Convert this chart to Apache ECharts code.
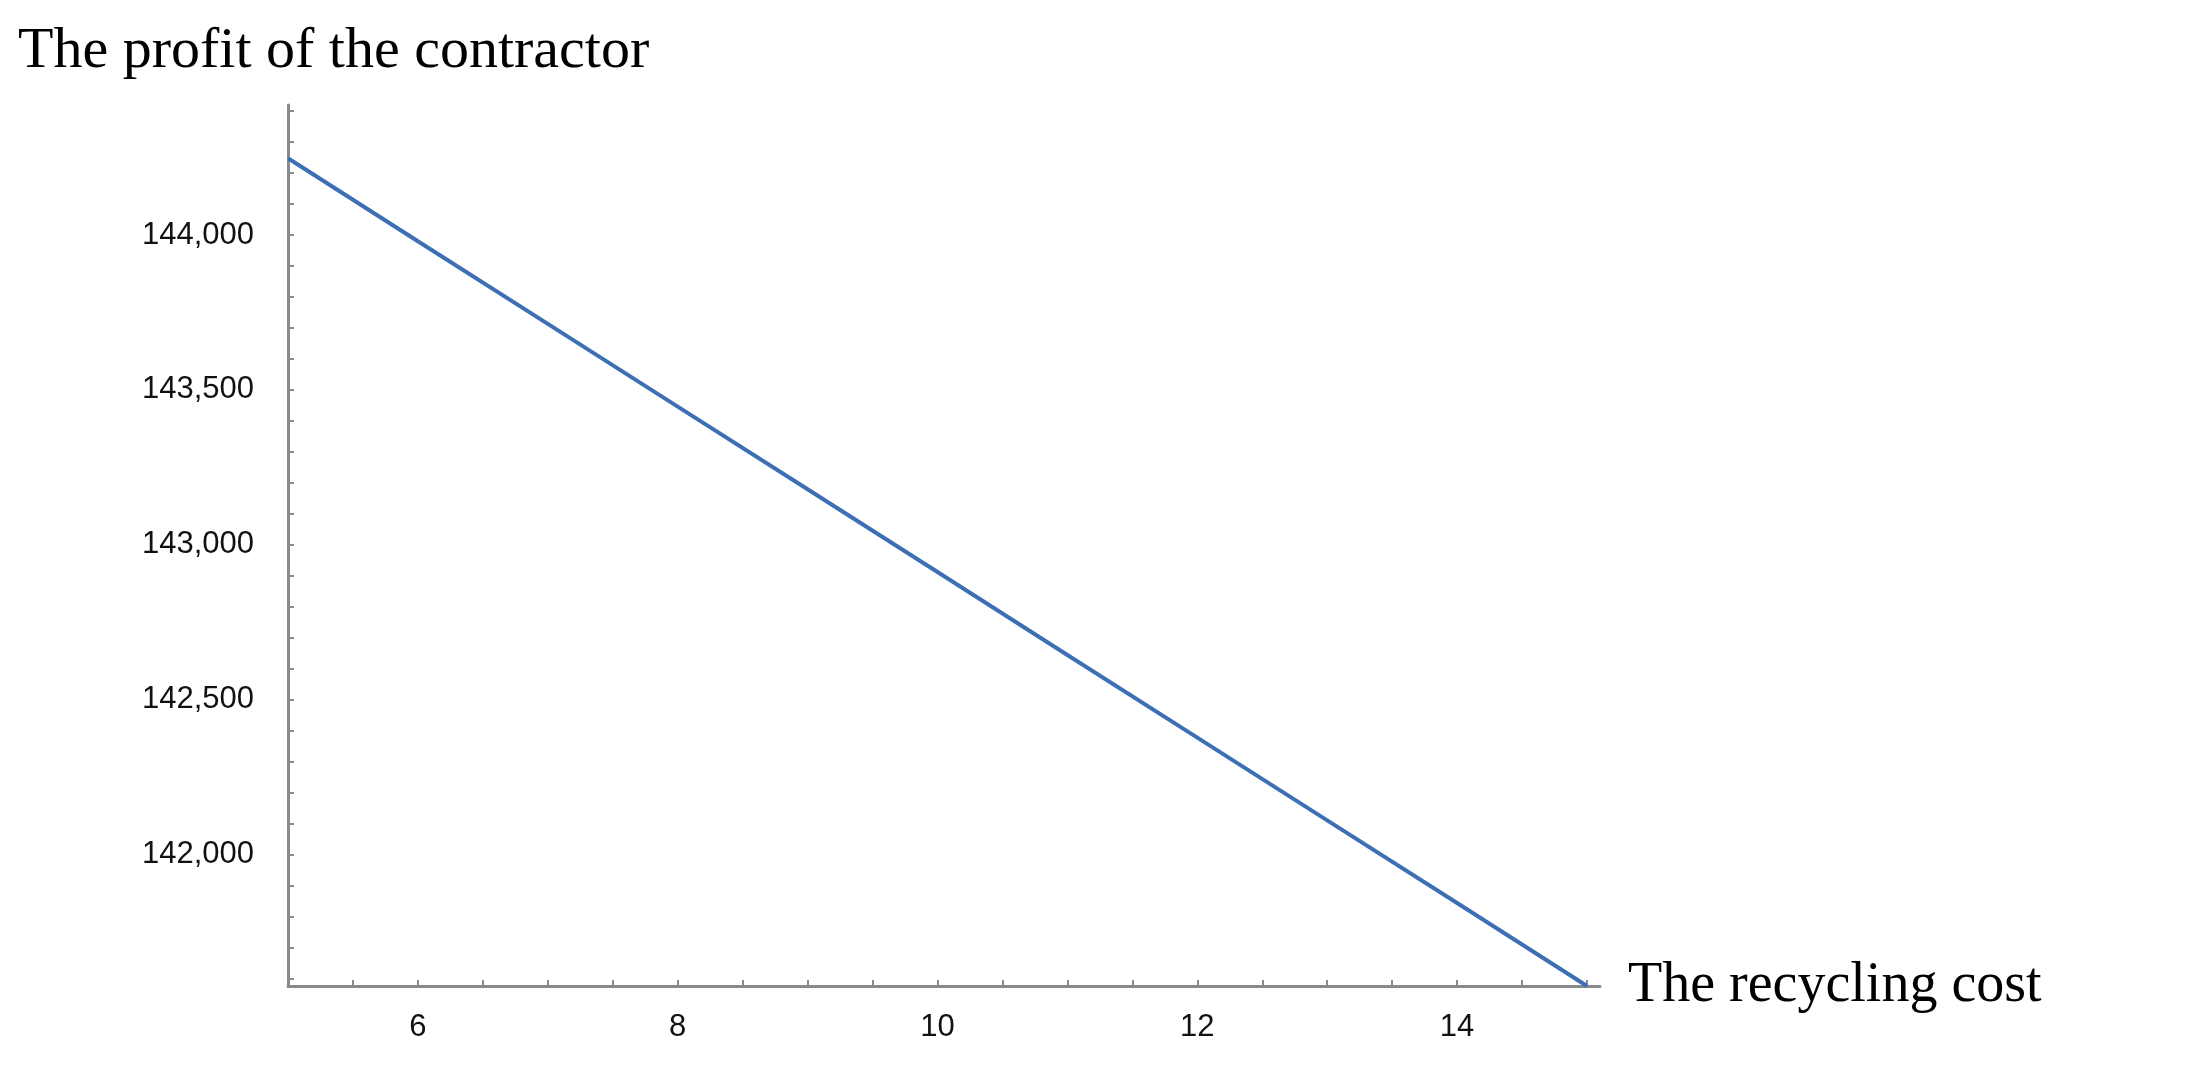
<!DOCTYPE html><html><head><meta charset="utf-8"><script src="https://cdn.jsdelivr.net/npm/echarts@6/dist/echarts.min.js"></script>
<style>html,body{margin:0;background:#fff}#c{width:2200px;height:1073px}</style></head><body><div id="c"></div><script>
const xValues=[5,6,7,8,9,10,11,12,13,14,15];
const profit=[144248,143980,143713,143446,143179,142912,142644,142377,142110,141843,141575];
const yTicks=[142000,142500,143000,143500,144000];
const xTicks=[6,8,10,12,14];
const yMinor=[];for(let v=141600;v<=144400;v+=100)yMinor.push(v);
const xMinor=[];for(let v=5.5;v<=15;v+=0.5)xMinor.push(v);
const chart=echarts.init(document.getElementById('c'));
const axisCol='#8a8a8a';
chart.setOption({animation:false,
grid:{left:288,right:2200-1600,top:105,bottom:1073-986},
xAxis:{type:'value',min:5,max:15.1,
 axisLine:{onZero:false,lineStyle:{color:axisCol,width:3}},
 axisTick:{customValues:xMinor,length:6,inside:true,lineStyle:{color:axisCol,width:2}},
 axisLabel:{customValues:xTicks,color:'#111',fontSize:31,fontFamily:'Liberation Sans',margin:26},
 splitLine:{show:false},
 name:'The recycling cost',nameLocation:'end',nameGap:28,
 nameTextStyle:{fontFamily:'Liberation Serif',fontSize:56,color:'#000',verticalAlign:'middle'}},
yAxis:{type:'value',min:141575,max:144420,
 axisLine:{onZero:false,lineStyle:{color:axisCol,width:3}},
 axisTick:{customValues:yMinor,length:6,inside:true,lineStyle:{color:axisCol,width:2}},
 axisLabel:{customValues:yTicks,color:'#111',fontSize:31,fontFamily:'Liberation Sans',margin:34},
 splitLine:{show:false},
 name:'The profit of the contractor',nameLocation:'end',nameGap:24,
 nameTextStyle:{fontFamily:'Liberation Serif',fontSize:58,color:'#000',align:'left',padding:[0,0,0,-270]}},
series:[{type:'line',data:xValues.map((x,i)=>[x,profit[i]]),showSymbol:false,
 lineStyle:{color:'#3d6fb5',width:4}}]});
</script></body></html>
